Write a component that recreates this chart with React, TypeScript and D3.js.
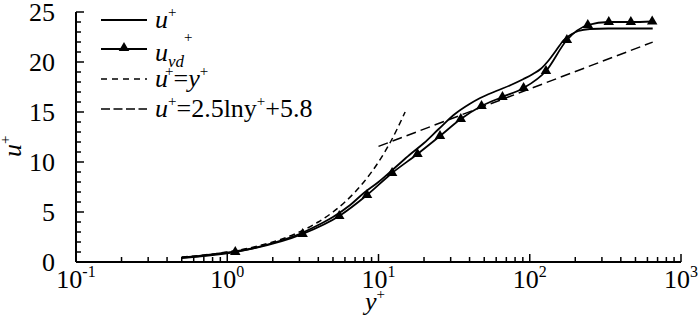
import React from "react";
import * as d3 from "d3";

// ---- data ----
const uPlusY = [0.5, 0.7, 1, 1.5, 2, 3, 4, 5, 6.5, 8, 10, 13, 16, 20, 25, 32, 40, 47, 60, 75, 91, 105, 118, 134, 150, 168, 190, 210, 250, 330, 650];
const uPlusU = [0.45, 0.65, 0.95, 1.4, 1.9, 2.8, 3.7, 4.5, 5.7, 6.9, 8.0, 9.5, 10.7, 11.9, 13.3, 14.8, 15.8, 16.4, 17.1, 17.7, 18.3, 18.8, 19.3, 20.2, 21.2, 22.2, 22.8, 23.1, 23.3, 23.35, 23.35];

const uvdY = [0.5, 1.13, 3.15, 5.5, 8.4, 12.3, 18.1, 25.5, 35, 48, 66, 91, 128, 176, 242, 333, 466, 645];
const uvdU = [0.4, 1.0, 2.8, 4.6, 6.7, 8.9, 10.8, 12.6, 14.3, 15.6, 16.5, 17.4, 19.1, 22.2, 23.7, 24.0, 24.0, 24.05];
const uvdMarkerIdx = [1, 2, 3, 4, 5, 6, 7, 8, 9, 10, 11, 12, 13, 14, 15, 16, 17];

const linY = [0.5, 0.7, 1, 1.5, 2, 3, 4, 5, 6, 7, 8, 10, 12, 15];
const linU = [0.5, 0.7, 1, 1.5, 2, 3, 4, 5, 6, 7, 8, 10, 12, 15];

const logY = [10, 650];
const logU = [11.56, 21.99];

const xMajor = [0.1, 1, 10, 100, 1000];
const xExp = ["-1", "0", "1", "2", "3"];
const yMajor = [0, 5, 10, 15, 20, 25];

const FF = "Liberation Serif";
const FS = 26;
const CSS = `svg.chart text, svg.chart tspan { font-family: "Liberation Serif", "Times New Roman", Tinos, serif !important; }`;

export default function App() {
  const W = 700, H = 319;
  const x = d3.scaleLog().domain([0.1, 1000]).range([76, 681]);
  const y = d3.scaleLinear().domain([0, 25]).range([262, 12]);

  const mk = (xs: number[], us: number[]) => xs.map((v, i) => [v, us[i]] as [number, number]);
  const line = d3.line<[number, number]>().x(d => x(d[0])).y(d => y(d[1])).curve(d3.curveMonotoneX);
  const straight = d3.line<[number, number]>().x(d => x(d[0])).y(d => y(d[1]));

  const uPlus = mk(uPlusY, uPlusU);
  const uvd = mk(uvdY, uvdU);
  const lin = mk(linY, linU);
  const logl = mk(logY, logU);

  const tri = d3.symbol().type(d3.symbolTriangle).size(48)();

  const xMinor: number[] = [];
  [0.1, 1, 10, 100].forEach(d => { for (let k = 2; k <= 9; k++) xMinor.push(d * k); });
  const yMinor = d3.range(0, 26, 1).filter(v => v % 5 !== 0);

  const x0 = x(0.1), y0 = y(0);
  const legX1 = 101, legX2 = 147, legTx = 155;
  const legRows = [20, 49, 79, 109];
  const st = { fontFamily: `"${FF}"` };

  return (
    <svg className="chart" width={W} height={H} style={{ position: "absolute", left: 0, top: 0 }}>
      <style>{CSS}</style>
      {/* curves */}
      <path d={line(lin) || ""} fill="none" stroke="#000" strokeWidth={1.5} strokeDasharray="6,4" />
      <path d={straight(logl) || ""} fill="none" stroke="#000" strokeWidth={1.5} strokeDasharray="10,5" />
      <path d={line(uPlus) || ""} fill="none" stroke="#000" strokeWidth={1.8} />
      <path d={line(uvd) || ""} fill="none" stroke="#000" strokeWidth={1.8} />
      {uvdMarkerIdx.map(i => (
        <path key={i} d={tri || ""} transform={`translate(${x(uvd[i][0])},${y(uvd[i][1])})`} fill="#000" />
      ))}

      {/* axes */}
      <line x1={x0} x2={x0} y1={y(25)} y2={y0} stroke="#000" strokeWidth={2} />
      <line x1={x0} x2={x(1000)} y1={y0} y2={y0} stroke="#000" strokeWidth={2} />
      {yMajor.map(v => (
        <line key={"ym" + v} x1={x0} x2={x0 + 8} y1={y(v)} y2={y(v)} stroke="#000" strokeWidth={1.5} />
      ))}
      {yMinor.map(v => (
        <line key={"yn" + v} x1={x0} x2={x0 + 5} y1={y(v)} y2={y(v)} stroke="#000" strokeWidth={1.5} />
      ))}
      {xMajor.map(v => (
        <line key={"xm" + v} x1={x(v)} x2={x(v)} y1={y0} y2={y0 - 8} stroke="#000" strokeWidth={1.5} />
      ))}
      {xMinor.map(v => (
        <line key={"xn" + v} x1={x(v)} x2={x(v)} y1={y0} y2={y0 - 5} stroke="#000" strokeWidth={1.5} />
      ))}

      {/* tick labels */}
      {yMajor.map(v => (
        <text key={"yl" + v} style={st} x={55} y={y(v) + 9} textAnchor="end" fontSize={FS}>{v}</text>
      ))}
      {xMajor.map((v, i) => (
        <text key={"xl" + v} style={st} x={x(v)} y={288} textAnchor="middle" fontSize={FS}>
          10<tspan dy={-11} fontSize={16}>{xExp[i]}</tspan>
        </text>
      ))}

      {/* axis titles */}
      <text style={st} x={365} y={310} fontSize={FS}>
        <tspan fontStyle="italic">y</tspan>
        <tspan dy={-11} fontSize={15}>+</tspan>
      </text>
      <text style={st} transform="translate(21,157) rotate(-90)" fontSize={FS}>
        <tspan fontStyle="italic">u</tspan>
        <tspan dy={-11} fontSize={15}>+</tspan>
      </text>

      {/* legend */}
      <line x1={legX1} x2={legX2} y1={legRows[0]} y2={legRows[0]} stroke="#000" strokeWidth={1.8} />
      <line x1={legX1} x2={legX2} y1={legRows[1]} y2={legRows[1]} stroke="#000" strokeWidth={1.8} />
      <path d={tri || ""} transform={`translate(${(legX1 + legX2) / 2},${legRows[1] - 1})`} fill="#000" />
      <line x1={legX1} x2={legX2} y1={legRows[2]} y2={legRows[2]} stroke="#000" strokeWidth={1.5} strokeDasharray="6,5" />
      <line x1={legX1} x2={legX2} y1={legRows[3]} y2={legRows[3]} stroke="#000" strokeWidth={1.5} strokeDasharray="9,3.5" />

      <text style={st} x={legTx} y={legRows[0] + 8} fontSize={FS}>
        <tspan fontStyle="italic">u</tspan>
        <tspan dy={-11} fontSize={15}>+</tspan>
      </text>
      <text style={st} x={legTx} y={legRows[1] + 12} fontSize={FS}>
        <tspan fontStyle="italic">u</tspan>
        <tspan dy={6} fontSize={17} fontStyle="italic">vd</tspan>
        <tspan dy={-25} fontSize={15}>+</tspan>
      </text>
      <text style={st} x={legTx} y={legRows[2] + 8} fontSize={FS}>
        <tspan fontStyle="italic">u</tspan>
        <tspan dy={-11} fontSize={15} dx={-3}>+</tspan>
        <tspan dy={11}>=</tspan>
        <tspan fontStyle="italic">y</tspan>
        <tspan dy={-11} fontSize={15}>+</tspan>
      </text>
      <text style={st} x={legTx} y={legRows[3] + 8} fontSize={FS}>
        <tspan fontStyle="italic">u</tspan>
        <tspan dy={-11} fontSize={15}>+</tspan>
        <tspan dy={11}>=2.5lny</tspan>
        <tspan dy={-11} fontSize={15}>+</tspan>
        <tspan dy={11}>+5.8</tspan>
      </text>
    </svg>
  );
}
